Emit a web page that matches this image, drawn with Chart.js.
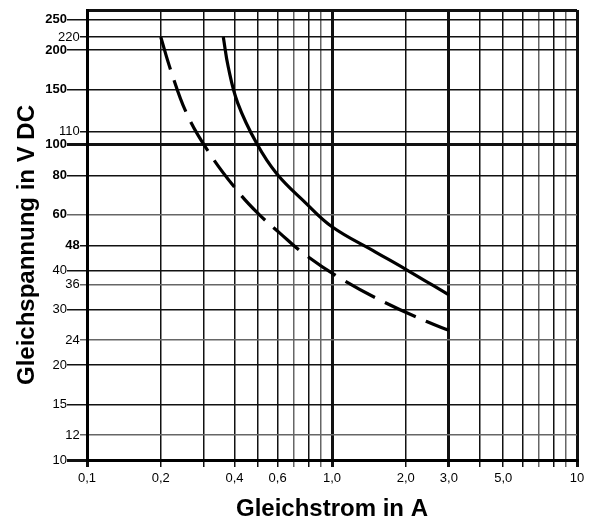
<!DOCTYPE html>
<html>
<head>
<meta charset="utf-8">
<script src="https://cdn.jsdelivr.net/npm/chart.js@4"></script>
<style>
  body { margin: 0; background: #fff; }
  canvas { display: block; }
</style>
</head>
<body>
<canvas id="kennlinie" width="601" height="518"></canvas>
<script>
// Kurven: Gleichstrom (A) gegen Gleichspannung (V DC)
const stromVoll = [0.36, 0.377, 0.412, 0.493, 0.595, 0.78, 1.0, 1.5, 2.0, 3.0];
const spannungVoll = [220, 177, 136, 101, 81, 65.5, 55, 45.8, 40.3, 33.4];

const stromGestrichelt = [0.20, 0.22, 0.255, 0.313, 0.408, 0.50, 0.614, 0.764, 1.095, 1.645, 2.435, 3.0];
const spannungGestrichelt = [220, 172, 126, 95.2, 72, 60.5, 52.4, 45.3, 37.5, 31.6, 27.5, 25.8];

// x-Achse
const stromTicks = [0.1, 0.2, 0.3, 0.4, 0.5, 0.6, 0.7, 0.8, 0.9, 1, 2, 3, 4, 5, 6, 7, 8, 9, 10];
const stromLabels = ['0,1', '0,2', '', '0,4', '', '0,6', '', '', '', '1,0', '2,0', '3,0', '', '5,0', '', '', '', '', '10'];

// y-Achse: Hauptwerte und eingeschobene Werte
const spannungTicks = [10, 15, 20, 30, 40, 60, 80, 100, 150, 200, 250, 268];
const spannungLabels = ['10', '15', '20', '30', '40', '60', '80', '100', '150', '200', '250', ''];
const spannungExtraTicks = [12, 24, 36, 48, 110, 220];
const spannungExtraLabels = ['12', '24', '36', '48', '110', '220'];

const X_MIN = 0.1, X_MAX = 10;
const Y_MIN = 10, Y_MAX = 268;

const dicke = [0.1, 1, 3, 10];
const grauX = [0.7, 0.9, 7, 9];
const fettY = [60, 80, 100, 150, 200, 250];
const grauY = [12, 24, 36, 60];

const schrift = 'Liberation Sans, Arial, sans-serif';

function punkte(xs, ys) {
  return xs.map((x, i) => ({ x: x, y: ys[i] }));
}

new Chart(document.getElementById('kennlinie'), {
  type: 'scatter',
  data: {
    datasets: [
      {
        data: punkte(stromVoll, spannungVoll),
        showLine: true,
        borderColor: '#000',
        borderWidth: 3.2,
        pointRadius: 0,
        tension: 0.4
      },
      {
        data: punkte(stromGestrichelt, spannungGestrichelt),
        showLine: true,
        borderColor: '#000',
        borderWidth: 3.2,
        borderDash: [34, 11],
        pointRadius: 0,
        tension: 0.4
      }
    ]
  },
  options: {
    responsive: false,
    animation: false,
    layout: { padding: { top: 10, right: 24, bottom: 0, left: 0 } },
    plugins: { legend: { display: false }, tooltip: { enabled: false } },
    scales: {
      x: {
        type: 'logarithmic',
        min: X_MIN,
        max: X_MAX,
        afterFit: (scale) => { scale.height = 58; },
        afterBuildTicks: (scale) => { scale.ticks = stromTicks.map(v => ({ value: v })); },
        border: { display: true, color: '#000', width: 3 },
        grid: {
          tickLength: 7,
          color: (ctx) => grauX.includes(ctx.tick.value) ? '#666' : '#111',
          tickColor: (ctx) => grauX.includes(ctx.tick.value) ? '#666' : '#111',
          lineWidth: (ctx) => dicke.includes(ctx.tick.value) ? 3 : 1.5
        },
        ticks: {
          autoSkip: false,
          maxRotation: 0,
          padding: 4,
          color: '#000',
          font: { family: schrift, size: 13 },
          callback: (value, index) => stromLabels[index]
        },
        title: {
          display: true,
          text: 'Gleichstrom in A',
          color: '#000',
          font: { family: schrift, size: 24, weight: 'bold', lineHeight: 1 },
          padding: { top: 0, bottom: -3 }
        }
      },
      y: {
        type: 'logarithmic',
        position: 'left',
        weight: 1,
        min: Y_MIN,
        max: Y_MAX,
        afterFit: (scale) => { scale.width = 87; },
        afterBuildTicks: (scale) => { scale.ticks = spannungTicks.map(v => ({ value: v })); },
        border: { display: true, color: '#000', width: 3 },
        grid: {
          tickLength: 20,
          color: (ctx) => grauY.includes(ctx.tick.value) ? '#666' : '#111',
          tickColor: (ctx) => ctx.tick.value === Y_MAX ? 'rgba(0,0,0,0)' : (grauY.includes(ctx.tick.value) ? '#666' : '#111'),
          lineWidth: (ctx) => (ctx.tick.value === Y_MIN || ctx.tick.value === 100 || ctx.tick.value === Y_MAX) ? 3 : 1.5
        },
        ticks: {
          autoSkip: false,
          padding: 0,
          color: '#000',
          font: (ctx) => ({
            family: schrift,
            size: 13,
            weight: ctx.tick && fettY.includes(ctx.tick.value) ? 'bold' : 'normal'
          }),
          callback: (value, index) => spannungLabels[index]
        },
        title: {
          display: true,
          // Leerzeichen am Ende schieben den Titel etwas nach unten
          text: 'Gleichspannung in V DC   ',
          color: '#000',
          font: { family: schrift, size: 24, weight: 'bold', lineHeight: 1 },
          padding: { top: 15, bottom: 0 }
        }
      },
      // zweite Achse ohne eigene Breite (innen an der Plotkante) für die eingeschobenen Spannungswerte
      yExtra: {
        type: 'logarithmic',
        position: 'left',
        weight: 0,
        min: Y_MIN,
        max: Y_MAX,
        afterFit: (scale) => { scale.width = 0; },
        afterBuildTicks: (scale) => { scale.ticks = spannungExtraTicks.map(v => ({ value: v })); },
        border: { display: false },
        grid: {
          tickLength: 7,
          color: (ctx) => grauY.includes(ctx.tick.value) ? '#666' : '#111',
          tickColor: (ctx) => grauY.includes(ctx.tick.value) ? '#666' : '#111',
          lineWidth: 1.5
        },
        ticks: {
          autoSkip: false,
          mirror: true,
          crossAlign: 'far',
          padding: -29,
          color: '#000',
          font: (ctx) => ({
            family: schrift,
            size: 13,
            weight: ctx.tick && ctx.tick.value === 48 ? 'bold' : 'normal'
          }),
          callback: (value, index) => spannungExtraLabels[index]
        }
      }
    }
  }
});
</script>
</body>
</html>
